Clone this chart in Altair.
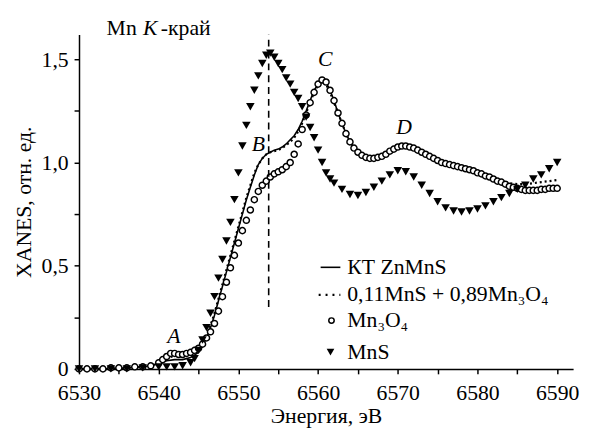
import altair as alt
import pandas as pd

# ---------------- data ----------------
mn3o4_x = [6530, 6531, 6532, 6533, 6534, 6535, 6536, 6537, 6538, 6539,
           6540, 6540.5, 6541, 6541.5, 6542, 6542.5, 6543, 6543.5, 6544, 6544.5,
           6545, 6545.5, 6546, 6546.5, 6547, 6547.5, 6548, 6548.5, 6549, 6549.5,
           6550, 6550.5, 6551, 6551.5, 6552, 6552.5, 6553, 6553.5, 6554, 6554.5,
           6555, 6555.5, 6556, 6556.5, 6557, 6557.5, 6558, 6558.5, 6559, 6559.5,
           6560, 6560.5, 6561, 6561.5, 6562, 6562.5, 6563, 6563.5, 6564, 6564.5,
           6565, 6565.5, 6566, 6566.5, 6567, 6567.5, 6568, 6568.5, 6569, 6569.5,
           6570, 6570.5, 6571, 6571.5, 6572, 6572.5, 6573, 6573.5, 6574, 6574.5,
           6575, 6575.5, 6576, 6576.5, 6577, 6577.5, 6578, 6578.5, 6579, 6579.5,
           6580, 6580.5, 6581, 6581.5, 6582, 6582.5, 6583, 6583.5, 6584, 6584.5,
           6585, 6585.5, 6586, 6586.5, 6587, 6587.5, 6588, 6588.5, 6589, 6589.5, 6590]
mn3o4_y = [0.0, 0.0, 0.0, 0.0, 0.005, 0.005, 0.005, 0.01, 0.01, 0.015,
           0.03, 0.045, 0.06, 0.075, 0.075, 0.07, 0.07, 0.075, 0.08, 0.09,
           0.10, 0.12, 0.15, 0.18, 0.22, 0.28, 0.35, 0.42, 0.49, 0.55,
           0.61, 0.67, 0.72, 0.77, 0.82, 0.86, 0.89, 0.91, 0.93, 0.945,
           0.955, 0.965, 0.98, 1.0, 1.04, 1.09, 1.16, 1.23, 1.29, 1.34,
           1.38, 1.40, 1.39, 1.35, 1.30, 1.24, 1.19, 1.14, 1.10, 1.07,
           1.05, 1.035, 1.025, 1.02, 1.02, 1.025, 1.03, 1.04, 1.055, 1.065,
           1.075, 1.08, 1.08, 1.075, 1.07, 1.06, 1.05, 1.04, 1.03, 1.02,
           1.01, 1.0, 0.995, 0.99, 0.985, 0.98, 0.975, 0.97, 0.965, 0.96,
           0.95, 0.945, 0.935, 0.93, 0.92, 0.91, 0.905, 0.895, 0.885, 0.88,
           0.875, 0.87, 0.865, 0.865, 0.865, 0.865, 0.87, 0.87, 0.875, 0.875, 0.875]

mns_x = [6530, 6532, 6534, 6536, 6538,
         6540, 6541, 6542, 6543, 6544, 6544.5,
         6545, 6545.5, 6546, 6546.5, 6547, 6547.5, 6548, 6548.5, 6549, 6549.5,
         6550, 6550.5, 6551, 6551.5, 6552, 6552.5, 6553, 6553.5, 6554, 6554.5,
         6555, 6555.5, 6556, 6556.5, 6557, 6557.5, 6558, 6558.5, 6559, 6559.5,
         6560, 6560.5, 6561, 6561.5, 6562,
         6563, 6564, 6565, 6566, 6567, 6568, 6569, 6570, 6571, 6572,
         6573, 6574, 6575, 6576, 6577, 6578, 6579, 6580, 6581, 6582,
         6583, 6584, 6585, 6586, 6587, 6588, 6589, 6590]
mns_y = [0.0, 0.0, 0.0, 0.0, 0.005,
         0.01, 0.01, 0.01, 0.015, 0.03, 0.05,
         0.09, 0.14, 0.2, 0.27, 0.35, 0.44, 0.53, 0.62, 0.71, 0.82,
         0.95, 1.08, 1.18, 1.27, 1.35, 1.42, 1.48, 1.52, 1.53, 1.51,
         1.48, 1.45, 1.41, 1.38, 1.34, 1.31, 1.27, 1.22, 1.17, 1.12,
         1.06, 1.0, 0.95, 0.92, 0.9,
         0.87, 0.845, 0.84, 0.855, 0.88, 0.91, 0.94, 0.96, 0.955, 0.93,
         0.89, 0.85, 0.81, 0.78, 0.765, 0.76, 0.765, 0.775, 0.79, 0.81,
         0.83, 0.85, 0.87, 0.89, 0.92, 0.94, 0.97, 1.0]

line_x = [6530, 6532, 6534, 6536, 6538, 6539, 6540, 6541, 6542, 6543, 6544, 6545,
          6545.5, 6546, 6546.5, 6547, 6547.5, 6548, 6548.5, 6549, 6549.5, 6550,
          6550.5, 6551, 6551.5, 6552, 6552.5, 6553, 6553.5, 6554, 6554.5, 6555,
          6555.5, 6556, 6556.5, 6557, 6557.5, 6558, 6558.5, 6559, 6559.5, 6560,
          6560.5, 6561, 6561.5, 6562, 6562.5, 6563, 6563.5, 6564, 6564.5, 6565,
          6566, 6567, 6568, 6569, 6570, 6571, 6572, 6573, 6574, 6575,
          6576, 6577, 6578, 6579, 6580, 6581, 6582, 6583, 6584, 6585,
          6586, 6587, 6588, 6589, 6590]
kt_y = [0.0, 0.0, 0.0, 0.005, 0.01, 0.015, 0.025, 0.04, 0.045, 0.045, 0.055, 0.08,
        0.11, 0.15, 0.2, 0.26, 0.33, 0.40, 0.47, 0.54, 0.61, 0.68,
        0.75, 0.82, 0.88, 0.94, 0.99, 1.02, 1.04, 1.05, 1.06, 1.065,
        1.075, 1.09, 1.11, 1.13, 1.16, 1.2, 1.25, 1.3, 1.35, 1.38,
        1.40, 1.39, 1.35, 1.30, 1.24, 1.19, 1.14, 1.10, 1.07, 1.05,
        1.025, 1.02, 1.03, 1.055, 1.075, 1.08, 1.07, 1.05, 1.03, 1.01,
        0.995, 0.985, 0.975, 0.965, 0.95, 0.935, 0.92, 0.905, 0.89, 0.88,
        0.875, 0.87, 0.875, 0.88, 0.885]
mix_y = [0.0, 0.0, 0.0, 0.005, 0.01, 0.015, 0.03, 0.05, 0.065, 0.065, 0.07, 0.09,
         0.12, 0.16, 0.21, 0.27, 0.34, 0.41, 0.48, 0.55, 0.62, 0.69,
         0.76, 0.83, 0.89, 0.95, 0.99, 1.02, 1.04, 1.05, 1.055, 1.06,
         1.07, 1.085, 1.10, 1.12, 1.15, 1.19, 1.24, 1.29, 1.34, 1.375,
         1.39, 1.38, 1.34, 1.29, 1.24, 1.19, 1.14, 1.10, 1.07, 1.05,
         1.03, 1.02, 1.03, 1.05, 1.07, 1.075, 1.07, 1.05, 1.03, 1.01,
         0.995, 0.98, 0.97, 0.96, 0.95, 0.935, 0.92, 0.91, 0.9, 0.895,
         0.895, 0.9, 0.905, 0.91, 0.915]

peak_labels = ["A", "B", "C", "D"]
peak_x = [6541.9, 6552.5, 6560.9, 6570.8]
peak_y = [0.16, 1.09, 1.50, 1.17]

edge_x = [6553.8]
edge_y = [0.3]
edge_y2 = [1.62]

legend_labels = ["КТ ZnMnS", "0,11MnS + 0,89Mn₃O₄", "Mn₃O₄", "MnS"]

x_ticks = [6530, 6535, 6540, 6545, 6550, 6555, 6560, 6565, 6570, 6575, 6580, 6585, 6590]
y_ticks = [0, 0.25, 0.5, 0.75, 1.0, 1.25, 1.5]

# ---------------- chart ----------------
FONT = "Liberation Serif"
FS = 22

df_mn3o4 = pd.DataFrame({"E": mn3o4_x, "v": mn3o4_y})
df_mns = pd.DataFrame({"E": mns_x, "v": mns_y})
df_kt = pd.DataFrame({"E": line_x, "v": kt_y})
df_mix = pd.DataFrame({"E": line_x, "v": mix_y})
df_peaks = pd.DataFrame({"E": peak_x, "v": peak_y, "t": peak_labels})
df_edge = pd.DataFrame({"E": edge_x, "v": edge_y, "v2": edge_y2})

xscale = alt.Scale(domain=[6530, 6592], nice=False, zero=False)
yscale = alt.Scale(domain=[0, 1.62], nice=False, zero=False)

xaxis = alt.Axis(values=x_ticks, format="d", labelFlush=False,
                 labelExpr="datum.value % 10 === 0 ? datum.label : ''",
                 title="Энергия, эВ", grid=False,
                 labelFont=FONT, titleFont=FONT)
yaxis = alt.Axis(values=y_ticks, labelFlush=False,
                 labelExpr="datum.value === 0 ? '0' : ((datum.value * 2) % 1 === 0 ? replace(format(datum.value, '.1f'), '.', ',') : '')",
                 title="XANES, отн. ед.", grid=False,
                 labelFont=FONT, titleFont=FONT)

X = alt.X("E:Q", scale=xscale, axis=xaxis)
Y = alt.Y("v:Q", scale=yscale, axis=yaxis)

kt_line = alt.Chart(df_kt).mark_line(color="black", strokeWidth=1.6).encode(x=X, y=Y)
mix_line = alt.Chart(df_mix).mark_line(color="black", strokeWidth=2.2, strokeDash=[2, 3]).encode(
    x=alt.X("E:Q", scale=xscale), y=alt.Y("v:Q", scale=yscale))
circles = alt.Chart(df_mn3o4).mark_point(shape="circle", fill="white", stroke="black",
                                         strokeWidth=1.5, size=38, opacity=1, fillOpacity=1).encode(
    x=alt.X("E:Q", scale=xscale), y=alt.Y("v:Q", scale=yscale))
tris = alt.Chart(df_mns).mark_point(shape="triangle-down", filled=True, color="black",
                                    size=75, opacity=1).encode(
    x=alt.X("E:Q", scale=xscale), y=alt.Y("v:Q", scale=yscale))
edge = alt.Chart(df_edge).mark_rule(color="black", strokeWidth=1.6, strokeDash=[7, 5]).encode(
    x=alt.X("E:Q", scale=xscale), y=alt.Y("v:Q", scale=yscale), y2="v2:Q")
peaks = alt.Chart(df_peaks).mark_text(font=FONT, fontSize=FS, fontStyle="italic",
                                      color="black").encode(
    x=alt.X("E:Q", scale=xscale), y=alt.Y("v:Q", scale=yscale), text="t:N")

# title "Mn K-край"
t1 = alt.Chart(pd.DataFrame({"t": ["Mn"]})).mark_text(font=FONT, fontSize=FS, align="left",
                                                       baseline="middle", color="black").encode(
    x=alt.value(28), y=alt.value(-7), text="t:N")
t2 = alt.Chart(pd.DataFrame({"t": ["K"]})).mark_text(font=FONT, fontSize=FS, fontStyle="italic",
                                                      align="left", baseline="middle", color="black").encode(
    x=alt.value(65), y=alt.value(-7), text="t:N")
t3 = alt.Chart(pd.DataFrame({"t": ["-край"]})).mark_text(font=FONT, fontSize=FS, align="left",
                                                          baseline="middle", color="black").encode(
    x=alt.value(83), y=alt.value(-7), text="t:N")

# legend
lg_solid = alt.Chart(pd.DataFrame({"a": [0]})).mark_rule(color="black", strokeWidth=1.6).encode(
    x=alt.value(245), x2=alt.value(265), y=alt.value(236))
lg_dot = alt.Chart(pd.DataFrame({"a": [0]})).mark_rule(color="black", strokeWidth=2.2,
                                                       strokeDash=[2, 5]).encode(
    x=alt.value(243), x2=alt.value(265), y=alt.value(264))
lg_circ = alt.Chart(pd.DataFrame({"a": [0]})).mark_point(shape="circle", fill="white", stroke="black",
                                                         strokeWidth=1.5, size=30, opacity=1).encode(
    x=alt.value(256), y=alt.value(290))
lg_tri = alt.Chart(pd.DataFrame({"a": [0]})).mark_point(shape="triangle-down", filled=True,
                                                        color="black", size=60, opacity=1).encode(
    x=alt.value(255), y=alt.value(322))
lg_text = alt.Chart(pd.DataFrame({"t": legend_labels, "yy": [236, 263, 290, 322]})).mark_text(
    font=FONT, fontSize=FS, align="left", baseline="middle", color="black").encode(
    x=alt.value(272), y=alt.Y("yy:Q", scale=None), text="t:N")

chart = alt.layer(kt_line, mix_line, circles, tris, edge, peaks, t1, t2, t3,
                  lg_solid, lg_dot, lg_circ, lg_tri, lg_text).properties(
    width=501, height=339,
    autosize=alt.AutoSizeParams(type="none"),
    padding={"left": 72, "top": 24, "right": 8, "bottom": 58},
).configure_view(stroke=None).configure_axis(
    domainColor="black", domainWidth=1.5, tickColor="black", tickWidth=1.5, tickSize=5,
    labelFont=FONT, labelFontSize=FS, labelColor="black",
    titleFont=FONT, titleFontSize=FS, titleColor="black", titleFontWeight="normal",
).configure_axisX(labelPadding=9, titlePadding=2).configure_axisY(labelPadding=6, titlePadding=6)

chart.save("out.html", embed_options={"renderer": "svg", "actions": False})
